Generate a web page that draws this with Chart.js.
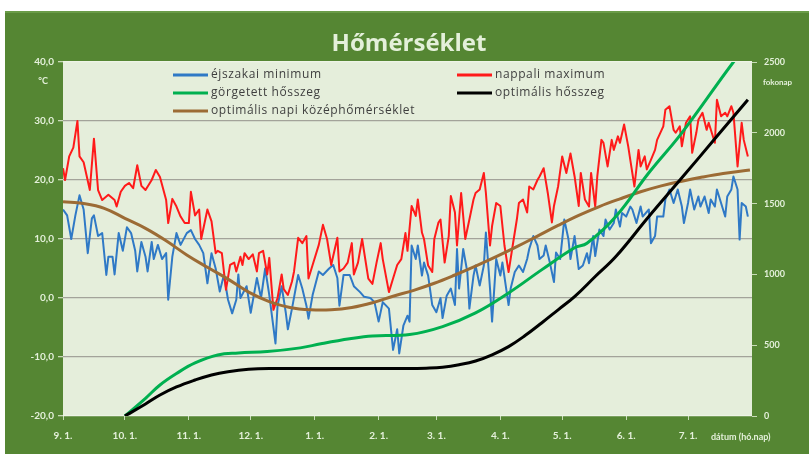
<!DOCTYPE html>
<html lang="hu">
<head>
<meta charset="utf-8">
<title>Hőmérséklet</title>
<script src="https://cdn.jsdelivr.net/npm/chart.js@4.4.1/dist/chart.umd.min.js"></script>
<style>
  html, body { margin: 0; padding: 0; background: #fff; }
</style>
</head>
<body>
<canvas id="homerseklet" width="809" height="454"></canvas>
<script>
// x = days since Sept 1, y = value
const MONTH_START_DAYS = [0, 30, 61, 91, 122, 153, 181, 212, 242, 273, 303];
const MONTH_LABELS = ['9. 1.', '10. 1.', '11. 1.', '12. 1.', '1. 1.', '2. 1.', '3. 1.', '4. 1.', '5. 1.', '6. 1.', '7. 1.'];

const minTemp = [[0,15],[2,14],[4,10],[6,14],[8,17.4],[10,15],[12,7.6],[14,13.5],[15,14],[17,10.5],[19,11],[21,3.9],[22,7],[24,7],[25,4],[27,11],[29,8],[31,12],[33,11],[35,8],[36,4.5],[38,9.5],[40,7],[41,4.5],[43,9.5],[44,6.6],[46,9],[48,6.6],[50,7.6],[51,-0.3],[53,7],[55,11],[57,9],[60,11],[62,11.5],[64,10],[66,9],[68,7.6],[70,2.5],[72,7.6],[74,5],[76,1.1],[78,3.9],[80,-0.3],[82,-2.6],[84,-0.3],[85,4],[86,0],[89,2],[91,-2.5],[94,3.4],[96,0],[98,5],[100,0.5],[103,-7.7],[104,-1.3],[106,2],[108,-2.5],[109,-5.3],[111,-1.8],[114,3.9],[116,1.6],[118,-1.3],[119,-3.5],[121,0.5],[124,4.5],[126,3.9],[129,5],[131,5.6],[133,3.4],[134,-1.3],[136,3.9],[139,3.9],[141,2],[144,1],[146,0.2],[149,0],[151,-0.7],[153,-4],[155,-0.7],[158,-1.8],[160,-8.8],[162,-5.3],[163,-9.4],[165,-4.7],[167,-3],[168,-4],[169,8.9],[171,6.6],[172,8.9],[174,3.8],[175,6],[177,3.8],[179,-1.2],[181,-2.4],[183,0],[184,-3.4],[186,0.4],[188,1.6],[190,-1.2],[191,8.3],[192,1.6],[194,8.3],[196,4.4],[197,-1.8],[199,3.8],[200,5.5],[202,2.1],[204,5.5],[205,11.1],[207,1.6],[208,-4],[210,6.6],[212,3.8],[213,6],[216,-1.2],[217,1.6],[219,4.4],[221,5.5],[223,4.4],[225,6.6],[226,8.3],[228,10.5],[230,8.9],[231,6.6],[233,7.2],[234,8.9],[236,6],[238,2.7],[239,7.7],[241,6.6],[243,13.3],[245,10],[246,6.6],[248,10.5],[250,4.9],[252,5.5],[254,7.6],[255,5.9],[257,10.5],[258,7.1],[260,11.6],[262,10.5],[263,13.3],[265,11.6],[267,12.7],[268,15],[270,12.1],[271,14.4],[273,13.8],[275,15.5],[276,15],[278,12.7],[280,15.5],[281,13.8],[284,15],[285,9.3],[287,10.5],[288,13.8],[291,13.8],[292,16.7],[294,18.4],[296,16.1],[298,18.4],[300,15.5],[301,12.7],[303,16.1],[304,18.4],[306,15],[308,17.2],[309,15.5],[311,17.2],[313,14.4],[314,16.7],[316,15.5],[317,18.4],[319,16.1],[321,13.8],[322,17.2],[324,18.4],[325,20.6],[327,18.4],[328,9.9],[329,16.1],[331,15.5],[332,13.8]];

const maxTemp = [[0,22],[1,20],[3,24],[5,25.5],[7,30],[8,24],[10,23],[13,18.3],[15,27],[17,18.3],[19,16.6],[22,17.5],[25,16.6],[26,15.5],[28,18],[30,19],[32,19.5],[34,18.6],[36,22.5],[38,19],[40,18.3],[43,20],[45,21.7],[47,20.5],[50,16.6],[51,12.7],[53,16.8],[55,15.5],[57,13.8],[59,12.7],[61,12.7],[62,18],[64,14],[66,15],[67,10],[70,15],[72,13],[74,7.6],[75,8],[77,7.6],[79,1.4],[81,5.6],[83,6],[84,4.5],[86,7],[87,5.6],[88,7.6],[90,6.6],[92,7.4],[94,4.5],[95,7.6],[97,8],[99,4],[100,6.8],[102,-2],[104,0],[106,4],[107,1.5],[109,0.5],[111,2.8],[112,4.5],[114,10.2],[116,9.3],[118,10.5],[119,3.3],[121,5.6],[124,9],[126,12.4],[128,10],[130,5.6],[133,10.2],[134,4.5],[136,5],[138,6],[140,9.3],[141,4],[143,6],[145,10],[148,3.3],[150,2.4],[152,6],[154,9.3],[155,6.6],[158,1],[160,3.3],[162,5.6],[164,6.6],[166,11],[167,8],[169,15.6],[171,13.9],[172,16.7],[174,11.1],[175,10],[177,5.5],[179,4.4],[180,10],[182,12.8],[183,13.3],[185,6],[187,10.5],[188,17.3],[190,14.5],[191,8.9],[193,17.8],[195,10],[197,13.3],[199,16.7],[200,17.8],[202,18.4],[204,21.2],[205,17.8],[207,8.9],[208,12.2],[210,16.1],[212,15.6],[214,8.9],[216,4.4],[218,8.9],[220,13.3],[221,16.1],[223,16.7],[225,14.5],[226,18.9],[228,18.4],[230,20],[231,20.6],[233,22],[235,17.8],[237,12.8],[238,15.6],[240,18.9],[242,24],[244,21.2],[246,24.5],[248,20.6],[250,15.6],[251,21.2],[253,16.7],[255,15.5],[256,21.2],[258,15.5],[259,20.6],[261,26.8],[262,26.3],[264,22.3],[266,26.8],[267,25.1],[269,27.4],[270,26.3],[272,29.4],[274,25.7],[275,23.4],[277,18.9],[279,25.1],[280,22.3],[282,24],[283,21.8],[285,23.4],[287,25.1],[288,26.8],[291,29.1],[292,31.9],[294,32.5],[296,28.5],[297,28],[299,29.1],[300,25.7],[302,29.7],[304,30.8],[305,24.6],[307,28],[308,30.2],[310,31.4],[312,28.5],[313,29.7],[316,26.3],[317,33.6],[319,30.8],[321,31.4],[322,30.8],[324,32.5],[325,31.4],[327,22.3],[329,29.7],[330,26.8],[332,24]];

// cumulative heat sums (degree-days), right axis
const rollingHeatSum = [[30,0],[40,125],[47,219],[55,300],[64,375],[75,431],[85,445],[99,455],[115,481],[125,510],[139,545],[150,565],[168,575],[184,631],[200,728],[216,869],[232,1032],[248,1188],[254,1220],[268,1409],[284,1718],[300,2000],[325,2500],[333,2640]];
const optimalHeatSum = [[30,0],[40,85],[47,148],[55,205],[64,254],[72,290],[80,313],[90,330],[100,335],[168,335],[176,338],[184,345],[192,362],[200,388],[208,432],[216,490],[224,568],[232,657],[240,750],[248,843],[258,985],[268,1126],[284,1409],[300,1682],[317,1975],[332,2234]];

const optimalMean = [[0,16.3],[10,16],[20,15.2],[30,13.5],[40,11.8],[50,9.7],[60,7.3],[70,5.2],[80,3.2],[90,1],[100,-0.6],[110,-1.6],[120,-2],[130,-2],[140,-1.6],[150,-0.8],[160,0.3],[170,1.3],[180,2.5],[190,3.9],[200,5.4],[210,7],[220,8.7],[230,10.5],[240,12.3],[250,14],[260,15.5],[270,16.8],[280,18],[290,19],[300,19.8],[310,20.5],[320,21.1],[333,21.7]];

const PANEL_GREEN = '#558633';
const AXIS_TEXT = '#e4f0da';
const PLOT_BG = '#e5eedb';

const xy = arr => arr.map(([x, y]) => ({ x, y }));

const series = [
  { label: 'éjszakai minimum', data: minTemp, color: '#2f79c6', width: 2, axis: 'y', order: 5, tension: 0 },
  { label: 'nappali maximum', data: maxTemp, color: '#ff1a1a', width: 2, axis: 'y', order: 4, tension: 0 },
  { label: 'görgetett hősszeg', data: rollingHeatSum, color: '#00b050', width: 3, axis: 'y2', order: 2, tension: 0.4 },
  { label: 'optimális hősszeg', data: optimalHeatSum, color: '#000000', width: 3, axis: 'y2', order: 1, tension: 0.4 },
  { label: 'optimális napi középhőmérséklet', data: optimalMean, color: '#9c6b35', width: 3, axis: 'y', order: 3, tension: 0.4 }
];

const backgroundPlugin = {
  id: 'panel',
  beforeDraw(chart) {
    const { ctx, chartArea: a } = chart;
    ctx.save();
    ctx.fillStyle = '#ffffff';
    ctx.fillRect(0, 0, chart.width, chart.height);
    ctx.fillStyle = PANEL_GREEN;
    ctx.fillRect(5, 11, chart.width - 5, chart.height - 11);
    ctx.fillStyle = '#6a9c48';
    ctx.fillRect(5, 11, chart.width - 5, 2);
    ctx.fillStyle = PLOT_BG;
    ctx.fillRect(a.left, a.top, a.right - a.left, a.bottom - a.top);
    ctx.restore();
  }
};

const textPlugin = {
  id: 'labels',
  afterDraw(chart) {
    const { ctx, chartArea: a } = chart;
    ctx.save();
    // title
    ctx.fillStyle = AXIS_TEXT;
    ctx.textAlign = 'center';
    ctx.textBaseline = 'middle';
    ctx.font = 'bold 24px "Open Sans", sans-serif';
    ctx.fillText('Hőmérséklet', 409, 44);
    // axis units
    ctx.font = 'bold 9px Lato, sans-serif';
    ctx.fillText('°C', 43, 81);
    ctx.font = 'bold 8px Lato, sans-serif';
    ctx.textAlign = 'left';
    ctx.fillText('fokonap', 763, 82);
    ctx.font = 'bold 9px Lato, sans-serif';
    ctx.fillText('dátum (hó.nap)', 711, 437);

    // legend, two columns inside the plot
    const cols = [a.left + 110, a.left + 394];
    const rows = [a.top + 13, a.top + 31, a.top + 49];
    ctx.font = '12px "Open Sans", sans-serif';
    ctx.letterSpacing = '0.6px';
    ctx.textBaseline = 'middle';
    series.forEach((s, i) => {
      const x = cols[i < 4 ? i % 2 : 0];
      const y = rows[Math.floor(i / 2)];
      ctx.strokeStyle = s.color;
      ctx.lineWidth = 3;
      ctx.beginPath();
      ctx.moveTo(x, y);
      ctx.lineTo(x + 35, y);
      ctx.stroke();
      ctx.fillStyle = '#3f3f3f';
      ctx.fillText(s.label, x + 38, y);
    });
    ctx.restore();
  }
};

new Chart(document.getElementById('homerseklet'), {
  type: 'line',
  data: {
    datasets: series.map(s => ({
      label: s.label,
      data: xy(s.data),
      borderColor: s.color,
      backgroundColor: s.color,
      borderWidth: s.width,
      yAxisID: s.axis,
      order: s.order,
      tension: s.tension,
      pointRadius: 0,
      fill: false,
      borderJoinStyle: 'round'
    }))
  },
  options: {
    responsive: false,
    animation: false,
    layout: { padding: { top: 62, left: 0, right: 0, bottom: 0 } },
    plugins: { legend: { display: false }, tooltip: { enabled: false } },
    scales: {
      x: {
        type: 'linear',
        min: 0,
        max: 334,
        afterBuildTicks: scale => { scale.ticks = MONTH_START_DAYS.map(v => ({ value: v })); },
        afterFit: scale => { scale.height = 38; },
        ticks: {
          autoSkip: false,
          maxRotation: 0,
          padding: 10,
          color: AXIS_TEXT,
          font: { family: 'Lato', size: 10, weight: 'bold' },
          callback: v => MONTH_LABELS[MONTH_START_DAYS.indexOf(v)]
        },
        grid: { drawOnChartArea: false, tickLength: 4, color: '#c9dbb8' },
        border: { display: false }
      },
      y: {
        position: 'left',
        min: -20,
        max: 40,
        afterFit: scale => { scale.width = 63; },
        ticks: {
          stepSize: 10,
          padding: 4,
          color: AXIS_TEXT,
          font: { family: 'Lato', size: 10, weight: 'bold' },
          callback: v => v.toFixed(1).replace('.', ',')
        },
        grid: {
          color: c => (c.tick.value === 40 || c.tick.value === -20) ? '#eef4e6' : '#a3a39a',
          lineWidth: 1.3,
          tickLength: 5,
          tickColor: '#c9dbb8'
        },
        border: { display: false }
      },
      y2: {
        position: 'right',
        min: 0,
        max: 2500,
        afterFit: scale => { scale.width = 57; },
        ticks: {
          stepSize: 500,
          padding: 7,
          color: AXIS_TEXT,
          font: { family: 'Lato', size: 9, weight: 'bold' },
          callback: v => String(v)
        },
        grid: { drawOnChartArea: false, tickLength: 5, color: '#c9dbb8' },
        border: { display: false }
      }
    }
  },
  plugins: [backgroundPlugin, textPlugin]
});
</script>
</body>
</html>
